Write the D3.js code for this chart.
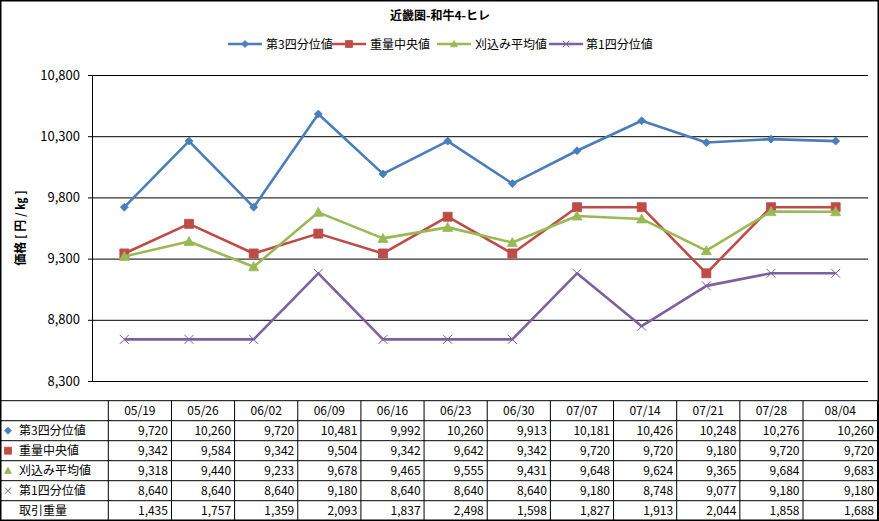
<!DOCTYPE html>
<html>
<head>
<meta charset="utf-8">
<script src="https://cdn.jsdelivr.net/npm/d3@7"></script>
<style>
  body { margin: 0; background: #fff; }
  svg { display: block; font-family: "Noto Sans CJK JP", "Noto Sans", sans-serif; }
</style>
</head>
<body>
<svg id="chart"></svg>
<script>
const dates = ["05/19", "05/26", "06/02", "06/09", "06/16", "06/23", "06/30", "07/07", "07/14", "07/21", "07/28", "08/04"];
const q3Values = [9720, 10260, 9720, 10481, 9992, 10260, 9913, 10181, 10426, 10248, 10276, 10260];
const medianValues = [9342, 9584, 9342, 9504, 9342, 9642, 9342, 9720, 9720, 9180, 9720, 9720];
const trimmedValues = [9318, 9440, 9233, 9678, 9465, 9555, 9431, 9648, 9624, 9365, 9684, 9683];
const q1Values = [8640, 8640, 8640, 9180, 8640, 8640, 8640, 9180, 8748, 9077, 9180, 9180];
const volumeValues = [1435, 1757, 1359, 2093, 1837, 2498, 1598, 1827, 1913, 2044, 1858, 1688];
const yTicks = [8300, 8800, 9300, 9800, 10300, 10800];

const seriesNames = ["第3四分位値", "重量中央値", "刈込み平均値", "第1四分位値"];
const volumeName = "取引重量";

const width = 879;
const height = 521;
const plot = { left: 92, right: 868, top: 75, bottom: 381 };

const series = [
  { name: seriesNames[0], values: q3Values, color: "#4a7ebb", marker: "diamond" },
  { name: seriesNames[1], values: medianValues, color: "#be4b48", marker: "square" },
  { name: seriesNames[2], values: trimmedValues, color: "#98b954", marker: "triangle" },
  { name: seriesNames[3], values: q1Values, color: "#7d60a0", marker: "x" },
];

const svg = d3.select("#chart").attr("width", width).attr("height", height);

svg.append("rect")
  .attr("x", 0.75).attr("y", 0.75)
  .attr("width", width - 1.5).attr("height", height - 1.5)
  .attr("fill", "#fff").attr("stroke", "#000").attr("stroke-width", 1.5);

// Scales
const xScale = d3.scalePoint()
  .domain(dates)
  .range([plot.left, plot.right])
  .padding(0.5);

const yScale = d3.scaleLinear()
  .domain([8300, 10800])
  .range([plot.bottom, plot.top]);

const fmt = d3.format(",");

// Title
svg.append("text")
  .attr("x", 440).attr("y", 20)
  .attr("text-anchor", "middle")
  .attr("font-size", 12).attr("font-weight", "bold")
  .text("近畿圏-和牛4-ヒレ");

// Marker drawing helper (Excel-like shapes)
function drawMarker(g, type, color, size) {
  const s = size / 2;
  if (type === "x") {
    const r = s * 0.9;
    g.append("path")
      .attr("d", `M${-r},${-r}L${r},${r}M${-r},${r}L${r},${-r}`)
      .attr("stroke", color).attr("stroke-width", 1).attr("fill", "none");
  } else if (type === "diamond") {
    g.append("path")
      .attr("d", `M0,${-s}L${s},0L0,${s}L${-s},0Z`)
      .attr("fill", color).attr("stroke", color).attr("stroke-width", 0.8);
  } else if (type === "square") {
    g.append("path")
      .attr("d", `M${-s},${-s}H${s}V${s}H${-s}Z`)
      .attr("fill", color).attr("stroke", color).attr("stroke-width", 0.8);
  } else {
    g.append("path")
      .attr("d", `M0,${-s}L${s},${s * 0.8}L${-s},${s * 0.8}Z`)
      .attr("fill", color).attr("stroke", color).attr("stroke-width", 0.8);
  }
}

// Legend
const legendItems = [
  { x: 228, textX: 266 },
  { x: 332, textX: 370 },
  { x: 437, textX: 475 },
  { x: 549, textX: 586 },
];
const legend = svg.append("g");
series.forEach((s, i) => {
  const it = legendItems[i];
  const g = legend.append("g");
  g.append("line")
    .attr("x1", it.x).attr("x2", it.x + 34)
    .attr("y1", 44).attr("y2", 44)
    .attr("stroke", s.color).attr("stroke-width", 2.5);
  drawMarker(g.append("g").attr("transform", `translate(${it.x + 17},44)`), s.marker, s.color, 7);
  g.append("text")
    .attr("x", it.textX).attr("y", 48.5)
    .attr("font-size", 12)
    .text(s.name);
});

// Gridlines and y-axis
const yAxis = d3.axisLeft(yScale)
  .tickValues(yTicks)
  .tickSize(-(plot.right - plot.left))
  .tickPadding(10)
  .tickFormat(fmt);

const yAxisG = svg.append("g")
  .attr("transform", `translate(${plot.left},0)`)
  .call(yAxis);
yAxisG.select(".domain").remove();
yAxisG.selectAll(".tick line")
  .attr("x1", -4)
  .attr("stroke", "#000").attr("stroke-width", 1);
yAxisG.selectAll(".tick text")
  .attr("font-size", 13)
  .attr("font-family", "'Noto Sans CJK JP', sans-serif")
  .attr("fill", "#000")
  .attr("x", -12);

svg.append("line")
  .attr("x1", plot.left + 0.5).attr("x2", plot.left + 0.5)
  .attr("y1", plot.top).attr("y2", plot.bottom)
  .attr("stroke", "#000").attr("stroke-width", 1);

// Y-axis title
svg.append("text")
  .attr("transform", `translate(25,${(plot.top + plot.bottom) / 2}) rotate(-90)`)
  .attr("text-anchor", "middle")
  .attr("font-size", 12).attr("font-weight", "bold")
  .text("価格 [ 円 / ㎏ ]");

// Lines and markers
const line = d3.line()
  .x((d, i) => xScale(dates[i]))
  .y((d) => yScale(d));

series.forEach((s) => {
  const g = svg.append("g");
  g.append("path")
    .datum(s.values)
    .attr("fill", "none")
    .attr("stroke", s.color)
    .attr("stroke-width", 2.6)
    .attr("stroke-linejoin", "round")
    .attr("d", line);
  g.selectAll(".pt")
    .data(s.values)
    .enter()
    .append("g")
    .attr("class", "pt")
    .attr("transform", (d, i) => `translate(${xScale(dates[i])},${yScale(d)})`)
    .each(function () {
      const size = s.marker === "diamond" ? 8 : s.marker === "square" ? 9 : 10;
      drawMarker(d3.select(this), s.marker, s.color, size);
    });
});

// Data table
const table = { top: 400.7, rowH: 20, labelRight: 108.3, right: 877.5 };
const colScale = d3.scaleLinear()
  .domain([0, dates.length - 1])
  .range([table.labelRight, 803]);
const edges = dates.map((d, i) => colScale(i)).concat([table.right]);

const rows = series.map((s) => ({ name: s.name, values: s.values, color: s.color, marker: s.marker }))
  .concat([{ name: volumeName, values: volumeValues, color: null, marker: null }]);

const tg = svg.append("g").attr("stroke", "#000").attr("stroke-width", 1);
const tableBottom = table.top + table.rowH * (rows.length + 1);

// horizontal lines
d3.range(rows.length + 1).forEach((r) => {
  tg.append("line")
    .attr("x1", 0).attr("x2", table.right)
    .attr("y1", table.top + r * table.rowH).attr("y2", table.top + r * table.rowH);
});
// vertical lines
edges.forEach((x) => {
  tg.append("line")
    .attr("x1", x).attr("x2", x)
    .attr("y1", table.top).attr("y2", tableBottom);
});

// header
svg.append("g").selectAll("text")
  .data(dates)
  .enter()
  .append("text")
  .attr("x", (d, i) => (edges[i] + edges[i + 1]) / 2)
  .attr("y", table.top + table.rowH / 2 + 4.5)
  .attr("text-anchor", "middle")
  .attr("font-size", 12)
  .text((d) => d);

rows.forEach((row, r) => {
  const cy = table.top + table.rowH * (r + 1) + table.rowH / 2;
  if (row.marker) {
    drawMarker(svg.append("g").attr("transform", `translate(8,${cy})`), row.marker, row.color, 7);
  }
  svg.append("text")
    .attr("x", 19).attr("y", cy + 4.5)
    .attr("font-size", 12)
    .text(row.name);
  svg.append("g").selectAll("text")
    .data(row.values)
    .enter()
    .append("text")
    .attr("x", (d, i) => edges[i + 1] - 3.5)
    .attr("y", cy + 4.5)
    .attr("text-anchor", "end")
    .attr("font-size", 12)
    .text((d) => fmt(d));
});
</script>
</body>
</html>
